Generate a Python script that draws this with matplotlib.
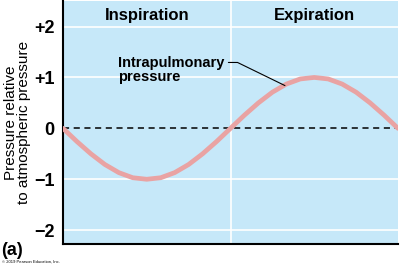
import matplotlib
matplotlib.use('Agg')
import matplotlib.pyplot as plt

plt.rcParams['font.family'] = ['Liberation Sans', 'DejaVu Sans']

# curve values (time in arbitrary units, pressure in mm Hg)
time = [0, 0.167, 0.333, 0.5, 0.667, 0.833, 1.0, 1.167, 1.333, 1.5, 1.667, 1.833, 2.0,
        2.167, 2.333, 2.5, 2.667, 2.833, 3.0, 3.167, 3.333, 3.5, 3.667, 3.833, 4.0]
pressure = [0, -0.26, -0.5, -0.71, -0.87, -0.97, -1.0, -0.97, -0.87, -0.71, -0.5, -0.26, 0,
            0.26, 0.5, 0.71, 0.87, 0.97, 1.0, 0.97, 0.87, 0.71, 0.5, 0.26, 0]
yticks = [2, 1, 0, -1, -2]
ytick_labels = ['+2', '+1', '0', '\u22121', '\u22122']
phases = ['Inspiration', 'Expiration']
phase_centers = [1, 3]

fig = plt.figure(figsize=(4, 2.66), dpi=100)
ax = fig.add_axes([0.1575, 0.083, 0.8375, 0.913])
ax.set_facecolor('#c6e8f9')
ax.set_xlim(0, 4)
ax.set_ylim(-2.27, 2.5)

for y in [2, 1, -1, -2]:
    ax.axhline(y, color='white', lw=1.2, zorder=1)
ax.axvline(2, color='white', lw=1.2, zorder=1)
ax.axhline(0, color='black', lw=1.1, ls=(0, (4, 3)), zorder=2)

ax.plot(time, pressure, color='#e9a3a3', lw=3.4, solid_capstyle='round', zorder=3)

for name, xc in zip(phases, phase_centers):
    ax.text(xc, 2.21, name, ha='center', va='center', fontsize=12, fontweight='bold')

ax.annotate('Intrapulmonary\npressure', xy=(2.65, 0.84), xytext=(0.655, 1.14),
            ha='left', va='center', fontsize=10.5, fontweight='bold', linespacing=1.0,
            arrowprops=dict(arrowstyle='-', color='black', lw=0.8,
                            connectionstyle='angle,angleA=0,angleB=-26,rad=0',
                            shrinkA=1, shrinkB=0,
                            relpos=(1.0, 0.78)))

ax.set_yticks(yticks)
ax.set_yticklabels(ytick_labels, fontsize=13, fontweight='bold')
ax.set_xticks([])
ax.tick_params(axis='y', length=0, pad=6)
ax.set_ylabel('Pressure relative\nto atmospheric pressure', fontsize=11,
              linespacing=0.95)
ax.yaxis.set_label_coords(-0.095, 0.5)
for side in ['top', 'right']:
    ax.spines[side].set_visible(False)
for side in ['left', 'bottom']:
    ax.spines[side].set_linewidth(1.5)

fig.text(0.003, 0.06, '(a)', fontsize=13, fontweight='bold', va='center')
fig.text(0.005, 0.015, '\u00a9 2019 Pearson Education, Inc.', fontsize=3, va='center')

fig.savefig('out.png', dpi=100)
